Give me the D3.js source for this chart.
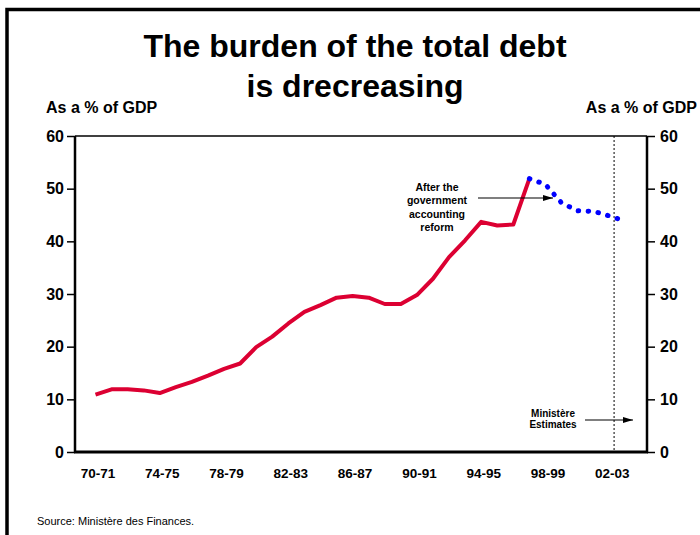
<!DOCTYPE html>
<html><head><meta charset="utf-8">
<script src="https://cdn.jsdelivr.net/npm/d3@7"></script>
<style>body{margin:0;background:#fff}svg{display:block;font-family:Arial,"Liberation Sans",sans-serif}</style>
</head><body><svg id="c" width="700" height="535"></svg>
<script>
const categories = [];
for (let y = 70; y <= 103; y++) categories.push(String(y % 100).padStart(2,"0") + "-" + String((y + 1) % 100).padStart(2,"0"));
const tickLabels = ["70-71","74-75","78-79","82-83","86-87","90-91","94-95","98-99","02-03"];
const actualValues = [10.9,11.9,11.9,11.7,11.2,12.3,13.3,14.5,15.8,16.8,19.9,21.9,24.4,26.6,27.9,29.3,29.6,29.3,28.1,28.1,29.8,32.9,37.0,40.2,43.7,43.0,43.2,51.9];
const reformValues = [51.9,50.8,47.3,45.8,45.7,44.8,43.8]; // from 97-98
const reformStart = 27;
const yTicks = [0,10,20,30,40,50,60];
const estimateStart = "02-03";

const svg = d3.select("#c");
const L = 75, R = 647, T = 136, B = 452;
const x = d3.scaleLinear().domain([0, 33]).range([95.5, 95.5 + 16.07 * 33]);
const y = d3.scaleLinear().domain([0, 60]).range([B, T]);

// frame
svg.append("rect").attr("x",7).attr("y",9.5).attr("width",720).attr("height",560)
  .attr("fill","none").attr("stroke","#000").attr("stroke-width",3.5);

// title
svg.append("text").attr("x",355).attr("y",57).attr("text-anchor","middle")
  .attr("font-size",32).attr("font-weight","bold").text("The burden of the total debt");
svg.append("text").attr("x",355).attr("y",97).attr("text-anchor","middle")
  .attr("font-size",32).attr("font-weight","bold").text("is drecreasing");

svg.append("text").attr("x",46).attr("y",113).attr("font-size",16).attr("font-weight","bold").text("As a % of GDP");
svg.append("text").attr("x",697).attr("y",113).attr("text-anchor","end").attr("font-size",16).attr("font-weight","bold").text("As a % of GDP");

// top border line of plot
svg.append("line").attr("x1",L).attr("x2",R).attr("y1",T).attr("y2",T).attr("stroke","#000").attr("stroke-width",1.5);

// axes
const gl = svg.append("g").attr("transform",`translate(${L},0)`)
  .call(d3.axisLeft(y).tickValues(yTicks).tickSize(8).tickPadding(3));
const gr = svg.append("g").attr("transform",`translate(${R},0)`)
  .call(d3.axisRight(y).tickValues(yTicks).tickSize(8).tickPadding(5));
[gl, gr].forEach(g => {
  g.select(".domain").attr("stroke-width",2.5).attr("d", `M0,${T}V${B}`);
  g.selectAll(".tick line").attr("stroke-width",1.5);
  g.selectAll(".tick text").attr("font-size",16).attr("font-weight","bold").attr("fill","#000").attr("font-family","Arial, 'Liberation Sans', sans-serif");
});
svg.append("line").attr("x1",L-1).attr("x2",R+1).attr("y1",B).attr("y2",B).attr("stroke","#000").attr("stroke-width",3);

// x labels
svg.append("g").selectAll("text").data(tickLabels).join("text")
  .attr("x", d => x(categories.indexOf(d)) + 2.5).attr("y",478)
  .attr("text-anchor","middle").attr("font-size",13.5).attr("font-weight","bold").text(d => d);

// estimate dotted line
const ex = x(categories.indexOf(estimateStart) + 0.27);
svg.append("line").attr("x1",ex).attr("x2",ex).attr("y1",T).attr("y2",B)
  .attr("stroke","#000").attr("stroke-width",1).attr("stroke-dasharray","2,2");

// lines
const line = d3.line().x(d => x(d.i)).y(d => y(d.v));
svg.append("path").datum(actualValues.map((v,i)=>({i,v})))
  .attr("d",line).attr("fill","none").attr("stroke","#dc0032").attr("stroke-width",4).attr("stroke-linejoin","round");
svg.append("path").datum(reformValues.map((v,i)=>({i:i+reformStart,v})))
  .attr("d",line).attr("fill","none").attr("stroke","#0000ff").attr("stroke-width",5)
  .attr("stroke-linecap","round").attr("stroke-dasharray","0.5,9.5");

// annotations
const defs = svg.append("defs");
defs.append("marker").attr("id","ah").attr("viewBox","0 0 10 6").attr("refX",10).attr("refY",3)
  .attr("markerWidth",10).attr("markerHeight",6).attr("markerUnits","userSpaceOnUse").attr("orient","auto")
  .append("path").attr("d","M0,0L10,3L0,6Z").attr("fill","#000");

const ann1 = ["After the","government","accounting","reform"];
svg.append("g").selectAll("text").data(ann1).join("text")
  .attr("x",437).attr("y",(d,i)=>191 + i*13.3).attr("text-anchor","middle")
  .attr("font-size",10.5).attr("font-weight","bold").text(d=>d);
svg.append("line").attr("x1",478).attr("x2",553).attr("y1",198).attr("y2",198)
  .attr("stroke","#000").attr("stroke-width",1.2).attr("marker-end","url(#ah)");

const ann2 = ["Ministère","Estimates"];
svg.append("g").selectAll("text").data(ann2).join("text")
  .attr("x",553).attr("y",(d,i)=>417 + i*11).attr("text-anchor","middle")
  .attr("font-size",10).attr("font-weight","bold").text(d=>d);
svg.append("line").attr("x1",585).attr("x2",633).attr("y1",420).attr("y2",420)
  .attr("stroke","#000").attr("stroke-width",1.2).attr("marker-end","url(#ah)");

svg.append("text").attr("x",37).attr("y",525).attr("font-size",11).text("Source: Ministère des Finances.");
</script></body></html>
